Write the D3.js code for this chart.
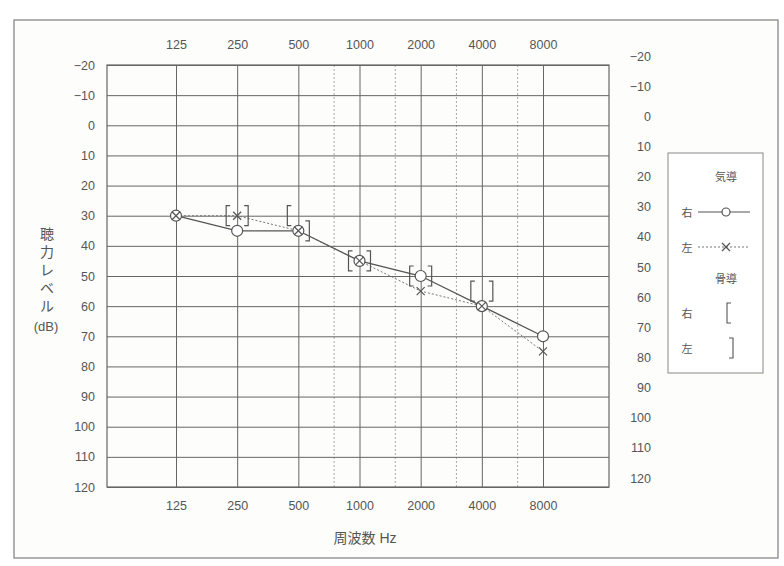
<!DOCTYPE html>
<html>
<head>
<meta charset="utf-8">
<script src="https://cdn.jsdelivr.net/npm/d3@7"></script>
<style>
  body { margin: 0; background: #fff; }
  svg { display: block; font-family: "Liberation Sans", "Noto Sans CJK JP", sans-serif; }
</style>
</head>
<body>
<svg id="chart" width="784" height="566"></svg>
<script>
// audiogram data
var freqs = [125, 250, 500, 1000, 2000, 4000, 8000];
var halfFreqs = [750, 1500, 3000, 6000];
var levels = [-20, -10, 0, 10, 20, 30, 40, 50, 60, 70, 80, 90, 100, 110, 120];
var rightAir = [30, 35, 35, 45, 50, 60, 70];
var leftAir = [30, 30, 35, 45, 55, 60, 75];
var boneFreqs = [250, 500, 1000, 2000, 4000];
var rightBone = [30, 30, 45, 50, 55];
var leftBone = [30, 35, 45, 50, 55];

var svg = d3.select('#chart'),
  pL = 107, pR = 609, pT = 65, pB = 487,
  ink = '#555', grid = '#666';

var x = d3.scaleLog().domain([125, 8000]).range([176, 543]);
var y = d3.scaleLinear().domain([-20, 120]).range([pT, pB]);

// page frame
svg.append('rect').attr('x', 14).attr('y', 20).attr('width', 764).attr('height', 538)
  .attr('fill', '#fdfdfb').attr('stroke', '#888').attr('stroke-width', 1.3);

// half octave dotted lines
svg.append('g').selectAll('line').data(halfFreqs).join('line')
  .attr('x1', function (d) { return x(d) }).attr('x2', function (d) { return x(d) })
  .attr('y1', pT).attr('y2', pB)
  .attr('stroke', '#aaa').attr('stroke-dasharray', '2,2');

// left axis with horizontal grid
var gl = svg.append('g').attr('transform', 'translate(' + pL + ',0)')
  .call(d3.axisLeft(y).tickValues(levels).tickSize(-(pR - pL)).tickPadding(12));
// top axis with vertical grid
var gt = svg.append('g').attr('transform', 'translate(0,' + pT + ')')
  .call(d3.axisTop(x).tickValues(freqs).tickFormat(d3.format('d')).tickSize(-(pB - pT)).tickPadding(16));
// bottom labels
var gb = svg.append('g').attr('transform', 'translate(0,' + pB + ')')
  .call(d3.axisBottom(x).tickValues(freqs).tickFormat(d3.format('d')).tickSize(0).tickPadding(14));
// right labels, printed a little above the lines
var gr = svg.append('g').attr('transform', 'translate(651,-9)')
  .call(d3.axisRight(y).tickValues(levels).tickSize(0).tickPadding(0));
gr.selectAll('text').attr('text-anchor', 'end');

[gl, gt, gb, gr].forEach(function (g) {
  g.select('.domain').remove();
  g.selectAll('line').attr('stroke', grid).attr('stroke-width', 1);
  g.selectAll('text').attr('fill', ink).attr('font-size', 12.5);
});

svg.append('rect').attr('x', pL).attr('y', pT).attr('width', pR - pL).attr('height', pB - pT)
  .attr('fill', 'none').attr('stroke', grid).attr('stroke-width', 1.2);

// air conduction lines
var line = d3.line().x(function (d) { return x(d[0]) }).y(function (d) { return y(d[1]) });
svg.append('path').datum(d3.zip(freqs, leftAir)).attr('d', line)
  .attr('fill', 'none').attr('stroke', '#777').attr('stroke-width', 1).attr('stroke-dasharray', '2,2');
svg.append('path').datum(d3.zip(freqs, rightAir)).attr('d', line)
  .attr('fill', 'none').attr('stroke', ink).attr('stroke-width', 1.3);

// right: circles
svg.append('g').selectAll('circle').data(d3.zip(freqs, rightAir)).join('circle')
  .attr('cx', function (d) { return x(d[0]) }).attr('cy', function (d) { return y(d[1]) })
  .attr('r', 5.5).attr('fill', '#fff').attr('stroke', ink).attr('stroke-width', 1.2);
// left: crosses
svg.append('g').selectAll('path').data(d3.zip(freqs, leftAir)).join('path')
  .attr('transform', function (d) { return 'translate(' + x(d[0]) + ',' + y(d[1]) + ')' })
  .attr('d', 'M-4,-4L4,4M-4,4L4,-4').attr('stroke', ink).attr('stroke-width', 1.2);

// bone conduction brackets
function bracket(dir) {
  return 'M' + (dir * 4) + ',-10H0V10H' + (dir * 4);
}
svg.append('g').selectAll('path').data(d3.zip(boneFreqs, rightBone)).join('path')
  .attr('transform', function (d) { return 'translate(' + (x(d[0]) - 11) + ',' + y(d[1]) + ')' })
  .attr('d', bracket(1)).attr('fill', 'none').attr('stroke', ink).attr('stroke-width', 1.2);
svg.append('g').selectAll('path').data(d3.zip(boneFreqs, leftBone)).join('path')
  .attr('transform', function (d) { return 'translate(' + (x(d[0]) + 11) + ',' + y(d[1]) + ')' })
  .attr('d', bracket(-1)).attr('fill', 'none').attr('stroke', ink).attr('stroke-width', 1.2);

// axis titles
var ytitle = ['聴', '力', 'レ', 'ベ', 'ル'];
svg.append('g').selectAll('text').data(ytitle).join('text')
  .attr('x', 47).attr('y', function (d, i) { return 239 + i * 18 })
  .attr('text-anchor', 'middle').attr('font-size', 14).attr('fill', ink).text(function (d) { return d });
svg.append('text').attr('x', 46).attr('y', 331).attr('text-anchor', 'middle')
  .attr('font-size', 13).attr('fill', ink).text('(dB)');
svg.append('text').attr('x', 365).attr('y', 543).attr('text-anchor', 'middle')
  .attr('font-size', 14).attr('fill', ink).text('周波数 Hz');

// legend
var lg = svg.append('g').attr('fill', ink).attr('font-size', 11);
lg.append('rect').attr('x', 668).attr('y', 153).attr('width', 95).attr('height', 220)
  .attr('fill', '#fff').attr('stroke', '#888');
lg.append('text').attr('x', 726).attr('y', 181).attr('text-anchor', 'middle').text('気導');
lg.append('text').attr('x', 726).attr('y', 283).attr('text-anchor', 'middle').text('骨導');
lg.append('text').attr('x', 687).attr('y', 217).attr('text-anchor', 'middle').text('右');
lg.append('text').attr('x', 687).attr('y', 252).attr('text-anchor', 'middle').text('左');
lg.append('text').attr('x', 687).attr('y', 318).attr('text-anchor', 'middle').text('右');
lg.append('text').attr('x', 687).attr('y', 353).attr('text-anchor', 'middle').text('左');
lg.append('line').attr('x1', 698).attr('x2', 750).attr('y1', 212).attr('y2', 212).attr('stroke', ink).attr('stroke-width', 1.2);
lg.append('circle').attr('cx', 726).attr('cy', 212).attr('r', 4).attr('fill', '#fff').attr('stroke', ink).attr('stroke-width', 1.2);
lg.append('line').attr('x1', 698).attr('x2', 750).attr('y1', 247).attr('y2', 247).attr('stroke', '#777').attr('stroke-dasharray', '2,2');
lg.append('path').attr('transform', 'translate(726,247)').attr('d', 'M-4,-4L4,4M-4,4L4,-4').attr('stroke', ink).attr('stroke-width', 1.2);
lg.append('path').attr('transform', 'translate(727,313)').attr('d', bracket(1)).attr('fill', 'none').attr('stroke', ink).attr('stroke-width', 1.1);
lg.append('path').attr('transform', 'translate(733,348)').attr('d', bracket(-1)).attr('fill', 'none').attr('stroke', ink).attr('stroke-width', 1.1);
</script>
</body>
</html>
